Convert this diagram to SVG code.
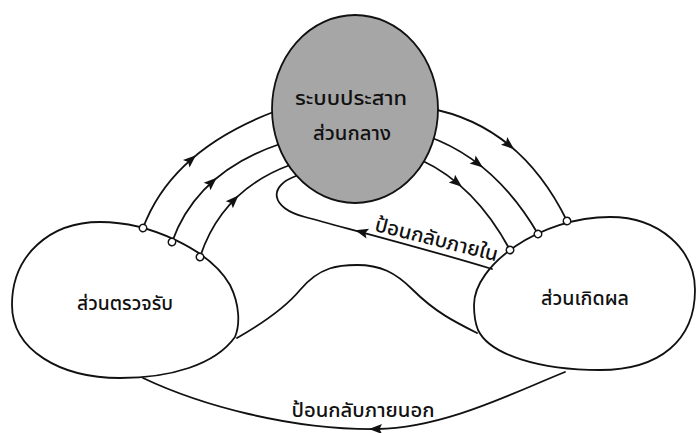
<svg xmlns="http://www.w3.org/2000/svg" xmlns:xlink="http://www.w3.org/1999/xlink" width="696" height="433" viewBox="0 0 696 433">
<style>
.ln{fill:none;stroke:#111;stroke-width:1.8;stroke-linecap:round}
.blob{fill:#fff;stroke:#111;stroke-width:1.8}
.cns{fill:#a6a6a6;stroke:#111;stroke-width:1.8}
.t{font-family:"Noto Sans Thai","Noto Sans","DejaVu Sans",sans-serif;font-size:20px;font-weight:500;fill:#111;text-anchor:middle}
.ah{fill:#111}
</style>
<defs>
<marker id="dot" viewBox="-5 -5 10 10" markerWidth="10" markerHeight="10" markerUnits="userSpaceOnUse" refX="0" refY="0" orient="auto">
<circle r="3.7" fill="#fff" stroke="#111" stroke-width="1.5"/>
</marker>
<path id="arr" d="M7,0 L-6,-5 L-3.5,0 L-6,5 Z"/>
</defs>
<rect width="696" height="433" fill="#fff"/>
<g id="receptor">
<path class="blob" d="M12,305 C12,255 50,222 100,222 C150,222 210,250 230,285 C240,305 240,325 235,337 C215,365 170,378 120,378 C60,378 12,350 12,305 Z"/>
<text class="t" x="125" y="310" textLength="96" lengthAdjust="spacingAndGlyphs">ส่วนตรวจรับ</text>
</g>
<g id="effector">
<path class="blob" d="M474,305 C474,265 540,217 610,217 C660,217 695,250 695,290 C695,340 660,370 600,370 C540,370 490,355 478,330 C474,320 474,312 474,305 Z"/>
<text class="t" x="585" y="305" textLength="88" lengthAdjust="spacingAndGlyphs">ส่วนเกิดผล</text>
</g>
<g id="connectors">
<path class="ln" marker-start="url(#dot)" d="M143,228 Q172,150 276,111"/>
<path class="ln" marker-start="url(#dot)" d="M172,242 Q197,172 280,144"/>
<path class="ln" marker-start="url(#dot)" d="M200,257 Q222,190 290,165"/>
<use href="#arr" class="ah" transform="translate(190.75,159.75) rotate(-41.3)"/>
<use href="#arr" class="ah" transform="translate(211.5,182.5) rotate(-42.2)"/>
<use href="#arr" class="ah" transform="translate(233.5,200.5) rotate(-45.6)"/>
<path class="ln" marker-end="url(#dot)" d="M428,108 Q520,125 567,221"/>
<path class="ln" marker-end="url(#dot)" d="M427,136 Q495,160 538,234"/>
<path class="ln" marker-end="url(#dot)" d="M421,160 Q475,185 510,250"/>
<use href="#arr" class="ah" transform="translate(508.75,144.75) rotate(39.1)"/>
<use href="#arr" class="ah" transform="translate(477.4,163.2) rotate(37.2)"/>
<use href="#arr" class="ah" transform="translate(456.5,182.4) rotate(39.5)"/>
<path class="ln" d="M492,269 C430,250 360,232 305,217 C270,208 268,186 296,176"/>
<use href="#arr" class="ah" transform="translate(362,232) rotate(195.5)"/>
<text class="t" x="435" y="246" transform="rotate(14 435 246)" textLength="126" lengthAdjust="spacingAndGlyphs">ป้อนกลับภายใน</text>
<path class="ln" d="M237,338 C265,322 285,308 300,290 C320,266 340,265 357,265 C380,265 395,272 413,290 C435,312 455,322 477,333"/>
<path class="ln" d="M143,378 C200,405 290,430 377,429 C445,428 515,392 565,372"/>
<use href="#arr" class="ah" transform="translate(376,429) rotate(180)"/>
<text class="t" x="363" y="417" textLength="143" lengthAdjust="spacingAndGlyphs">ป้อนกลับภายนอก</text>
</g>
<g id="cns">
<ellipse class="cns" cx="355" cy="109" rx="83" ry="94"/>
<text class="t" x="351" y="105" textLength="112" lengthAdjust="spacingAndGlyphs">ระบบประสาท</text>
<text class="t" x="352" y="140" textLength="78" lengthAdjust="spacingAndGlyphs">ส่วนกลาง</text>
</g>
</svg>
